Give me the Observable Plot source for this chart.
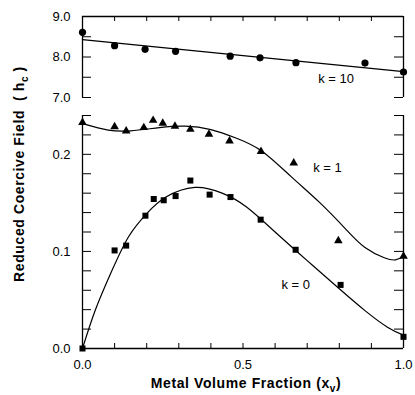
<!DOCTYPE html>
<html><head><meta charset="utf-8">
<script src="https://cdn.jsdelivr.net/npm/d3@7"></script>
<script src="https://cdn.jsdelivr.net/npm/@observablehq/plot@0.6"></script>
<style>
body{margin:0;background:#fff;}
#chart{position:relative;width:415px;height:395px;overflow:hidden;font-family:"Liberation Sans",Arial,sans-serif;color:#000;background:#fff;}
#topPanel,#bottomPanel{position:absolute;left:0;}
#topPanel{top:0;z-index:2;}
#bottomPanel{top:100px;z-index:1;}
.ytitle{position:absolute;left:19px;top:174px;transform:translate(-50%,-50%) rotate(-90deg);white-space:nowrap;font-weight:bold;font-size:14px;letter-spacing:0.6px;}
.xtitle{position:absolute;left:246px;top:383px;transform:translate(-50%,-50%);white-space:nowrap;font-weight:bold;font-size:14px;letter-spacing:0.6px;line-height:14px;}
sub{font-size:10px;vertical-align:-4px;line-height:0;}
</style>
</head><body>
<div id="chart">
  <div id="topPanel"></div>
  <div id="bottomPanel"></div>
  <div class="ytitle">Reduced Coercive Field&nbsp; ( h<sub>c</sub> )</div>
  <div class="xtitle">Metal Volume Fraction (x<sub>v</sub>)</div>
</div>
<script>
// ---- data ----
const k10X = [0, 0.1, 0.195, 0.29, 0.46, 0.553, 0.665, 0.88, 1.0];
const k10Y = [8.61, 8.28, 8.19, 8.14, 8.02, 7.98, 7.86, 7.85, 7.63];
const k10LineX = [0, 1];
const k10LineY = [8.43, 7.64];

const k1X = [0, 0.1, 0.136, 0.191, 0.22, 0.25, 0.288, 0.336, 0.394, 0.458, 0.556, 0.658, 0.797, 1.0];
const k1Y = [0.2327, 0.2285, 0.224, 0.2275, 0.235, 0.232, 0.229, 0.2257, 0.2206, 0.2137, 0.203, 0.191, 0.111, 0.095];
const k1CurveX = [0, 0.08, 0.15, 0.24, 0.32, 0.40, 0.48, 0.56, 0.65, 0.74, 0.82, 0.88, 0.94, 0.975, 1.0];
const k1CurveY = [0.2316, 0.225, 0.2242, 0.2275, 0.229, 0.2255, 0.2165, 0.203, 0.177, 0.150, 0.123, 0.104, 0.0935, 0.0913, 0.0947];

const k0X = [0, 0.1, 0.136, 0.196, 0.222, 0.253, 0.29, 0.336, 0.396, 0.461, 0.555, 0.664, 0.804, 1.0];
const k0Y = [0, 0.101, 0.106, 0.1368, 0.154, 0.1527, 0.157, 0.173, 0.1585, 0.156, 0.1327, 0.1017, 0.0655, 0.012];
const k0CurveX = [0, 0.04, 0.09, 0.144, 0.20, 0.26, 0.35, 0.435, 0.51, 0.60, 0.70, 0.80, 0.88, 0.95, 1.0];
const k0CurveY = [0, 0.0396, 0.079, 0.1154, 0.139, 0.156, 0.166, 0.160, 0.146, 0.120, 0.0905, 0.0615, 0.039, 0.022, 0.0138];

const xMinorTicks = [0, 0.1, 0.2, 0.3, 0.4, 0.5, 0.6, 0.7, 0.8, 0.9, 1.0];
const xTickLabels = [0, 0.5, 1.0];
const topYTicks = [7, 7.5, 8, 8.5];
const topYTickLabels = [7, 8, 9];
const botYTicks = [0.02, 0.04, 0.06, 0.08, 0.10, 0.12, 0.14, 0.16, 0.18, 0.20, 0.22, 0.24];
const botYTickLabels = [0, 0.1, 0.2];

const topLabels = [{text: "k = 10", x: 0.79, y: 7.47}];
const botLabels = [{text: "k = 1", x: 0.763, y: 0.1865}, {text: "k = 0", x: 0.664, y: 0.0655}];

const zip = (xs, ys) => xs.map((x, i) => ({x, y: ys[i]}));

const W = 415, ML = 82, MR = 12;
const PW = W - ML - MR;
const fontStyle = {fontFamily: '"Liberation Sans", Arial, sans-serif', fontSize: "13px", background: "transparent", color: "black", overflow: "visible"};
const fmt = d3.format(".1f");

// ---- top panel ----
const topH = 105, topMT = 16, topMB = 8;
const topPH = topH - topMT - topMB;
const topPlot = Plot.plot({
  width: W, height: topH,
  marginLeft: ML, marginRight: MR, marginTop: topMT, marginBottom: topMB,
  style: fontStyle,
  x: {domain: [0, 1], axis: null},
  y: {domain: [7, 9], axis: null},
  marks: [
    Plot.ruleY([9], {stroke: "black", strokeWidth: 1.3}),
    Plot.ruleX([0, 1], {stroke: "black", strokeWidth: 1.3}),
    Plot.tickX(xMinorTicks, {x: d => d, insetBottom: topPH - 5, stroke: "black"}),
    Plot.tickY(topYTicks, {y: d => d, insetRight: PW - 9, stroke: "black"}),
    Plot.tickY(topYTicks, {y: d => d, insetLeft: PW - 9, stroke: "black"}),
    Plot.axisY({ticks: topYTickLabels, tickSize: 0, tickPadding: 12, tickFormat: fmt, label: null, fontSize: 13}),
    Plot.line(zip(k10LineX, k10LineY), {x: "x", y: "y", stroke: "black", strokeWidth: 1.3}),
    Plot.dot(zip(k10X, k10Y), {x: "x", y: "y", symbol: "circle", fill: "black", r: 3.6}),
    Plot.text(topLabels, {x: "x", y: "y", text: "text", fontSize: 13, fill: "black"})
  ]
});
document.getElementById("topPanel").appendChild(topPlot);

// ---- bottom panel ----
const botH = 272, botMT = 15, botMB = 24;
const botPH = botH - botMT - botMB;
const botPlot = Plot.plot({
  width: W, height: botH,
  marginLeft: ML, marginRight: MR, marginTop: botMT, marginBottom: botMB,
  style: fontStyle,
  x: {domain: [0, 1], axis: null},
  y: {domain: [0, 0.24], axis: null},
  marks: [
    Plot.ruleY([0], {stroke: "black", strokeWidth: 1.3}),
    Plot.ruleX([0, 1], {stroke: "black", strokeWidth: 1.3}),
    Plot.tickX(xMinorTicks, {x: d => d, insetTop: botPH - 5, stroke: "black"}),
    Plot.tickY(botYTicks, {y: d => d, insetRight: PW - 9, stroke: "black"}),
    Plot.tickY(botYTicks, {y: d => d, insetLeft: PW - 9, stroke: "black"}),
    Plot.axisY({ticks: botYTickLabels, tickSize: 0, tickPadding: 12, tickFormat: fmt, label: null, fontSize: 13}),
    Plot.axisX({ticks: xTickLabels, tickSize: 0, tickPadding: 11, tickFormat: fmt, label: null, fontSize: 13}),
    Plot.line(zip(k1CurveX, k1CurveY), {x: "x", y: "y", curve: "natural", stroke: "black", strokeWidth: 1.2}),
    Plot.line(zip(k0CurveX, k0CurveY), {x: "x", y: "y", curve: "natural", stroke: "black", strokeWidth: 1.2}),
    Plot.dot(zip(k1X, k1Y), {x: "x", y: "y", symbol: "triangle", fill: "black", r: 3.2}),
    Plot.dot(zip(k0X, k0Y), {x: "x", y: "y", symbol: "square", fill: "black", r: 3.4}),
    Plot.text(botLabels, {x: "x", y: "y", text: "text", fontSize: 13, fill: "black"})
  ]
});
document.getElementById("bottomPanel").appendChild(botPlot);
</script>
</body></html>
